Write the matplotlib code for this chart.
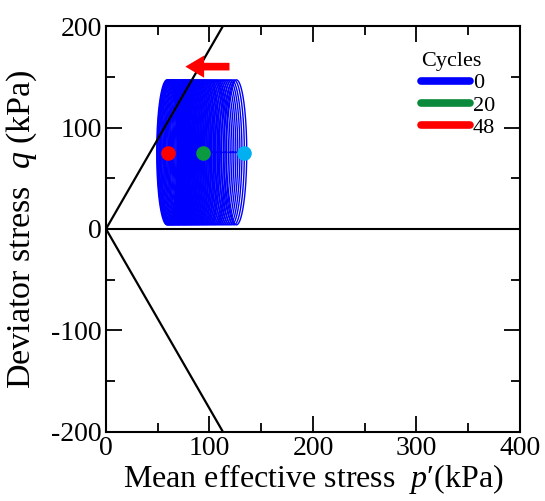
import numpy as np
import matplotlib
matplotlib.use("Agg")
import matplotlib.pyplot as plt
from matplotlib.patches import FancyArrowPatch
from matplotlib.ticker import MultipleLocator

plt.rcParams["font.family"] = ["Liberation Serif", "DejaVu Serif"]
plt.rcParams["mathtext.fontset"] = "custom"
plt.rcParams["mathtext.rm"] = "Liberation Serif"
plt.rcParams["mathtext.it"] = "Liberation Serif:italic"
plt.rcParams["axes.unicode_minus"] = False

# Centre of mean effective stress p' (kPa) for each loading cycle
cycle_centres = [126.0, 123.7, 121.4, 119.4, 117.4, 115.5, 113.6, 111.8, 110.0, 108.3,
                 106.6, 105.0, 103.5, 101.9, 100.4, 99.0, 97.6, 96.2, 95.0, 93.7,
                 92.4, 91.2, 90.0, 88.9, 87.8, 86.7, 85.6, 84.5, 83.5, 82.5,
                 81.5, 80.5, 79.5, 78.5, 77.6, 76.7, 75.8, 74.9, 74.0, 73.1,
                 72.1, 71.3, 70.5, 69.7, 68.9, 68.0, 67.2, 66.4, 65.6, 64.8,
                 63.9, 63.2, 62.5, 61.7, 61.0, 60.3, 59.6, 59.0]
loop_half_width = 10.0     # kPa
q_min, q_max = 4.0, 147.0  # deviator stress range of each cycle (kPa)

# Critical state lines (compression / extension)
csl_p = [0, 113]
csl_q_comp = [0, 200]
csl_q_ext = [0, -200]

# Marked states at q = 75 kPa
state_p = [133, 94, 60]
state_q = [75, 75, 75]
state_colors = ["#00b0f0", "#0a9a40", "#ff0000"]

legend_labels = ["0", "20", "48"]
legend_colors = ["#0000ff", "#0a8a3a", "#ff0000"]

fig = plt.figure(figsize=(5.45, 5.01), dpi=100)
ax = fig.add_axes([0.1945, 0.138, 0.7595, 0.810])

t = np.linspace(0, 2 * np.pi, 160)
q_mid = 0.5 * (q_min + q_max)
q_amp = 0.5 * (q_max - q_min)
for pc in cycle_centres:
    ax.plot(pc + loop_half_width * np.cos(t), q_mid + q_amp * np.sin(t),
            color="#0000ff", lw=1.0, zorder=2)

ax.plot(csl_p, csl_q_comp, color="black", lw=1.6, zorder=3)
ax.plot(csl_p, csl_q_ext, color="black", lw=1.6, zorder=3)
ax.axhline(0, color="black", lw=1.5, zorder=3)

for p, q, c in zip(state_p, state_q, state_colors):
    ax.plot(p, q, "o", color=c, ms=10.5, mec="none", zorder=4)

arrow = FancyArrowPatch((122, 160), (74, 160),
                        arrowstyle="simple,head_length=1.35,head_width=1.6,tail_width=0.55",
                        mutation_scale=10, color="#ff0000", lw=0, zorder=5)
ax.add_patch(arrow)

handles = [plt.Line2D([], [], color=c, lw=5.5, solid_capstyle="round") for c in legend_colors]
leg = ax.legend(handles, legend_labels, title="Cycles", loc="upper left",
                bbox_to_anchor=(0.762, 0.936), frameon=False, fontsize=16,
                title_fontsize=16, handlelength=2.2, handletextpad=0.12,
                labelspacing=0.08, borderpad=0, borderaxespad=0)
leg._legend_box.align = "left"

ax.set_xlim(0, 400)
ax.set_ylim(-200, 200)
ax.xaxis.set_major_locator(MultipleLocator(100))
ax.xaxis.set_minor_locator(MultipleLocator(50))
ax.yaxis.set_major_locator(MultipleLocator(100))
ax.yaxis.set_minor_locator(MultipleLocator(50))
ax.tick_params(which="both", direction="in", top=True, right=True, width=1.3,
               labelsize=20, pad=3)
ax.tick_params(which="major", length=11.5)
ax.tick_params(which="minor", length=6.5)
for s in ax.spines.values():
    s.set_linewidth(1.5)

ax.set_xlabel("Mean effective stress  $p$\u2032(kPa)", fontsize=23, labelpad=1)
ax.set_ylabel(r"Deviator stress  $q$ (kPa)", fontsize=24.5)
ax.yaxis.set_label_coords(-0.162, 0.5)

fig.savefig("out.png", dpi=100)
